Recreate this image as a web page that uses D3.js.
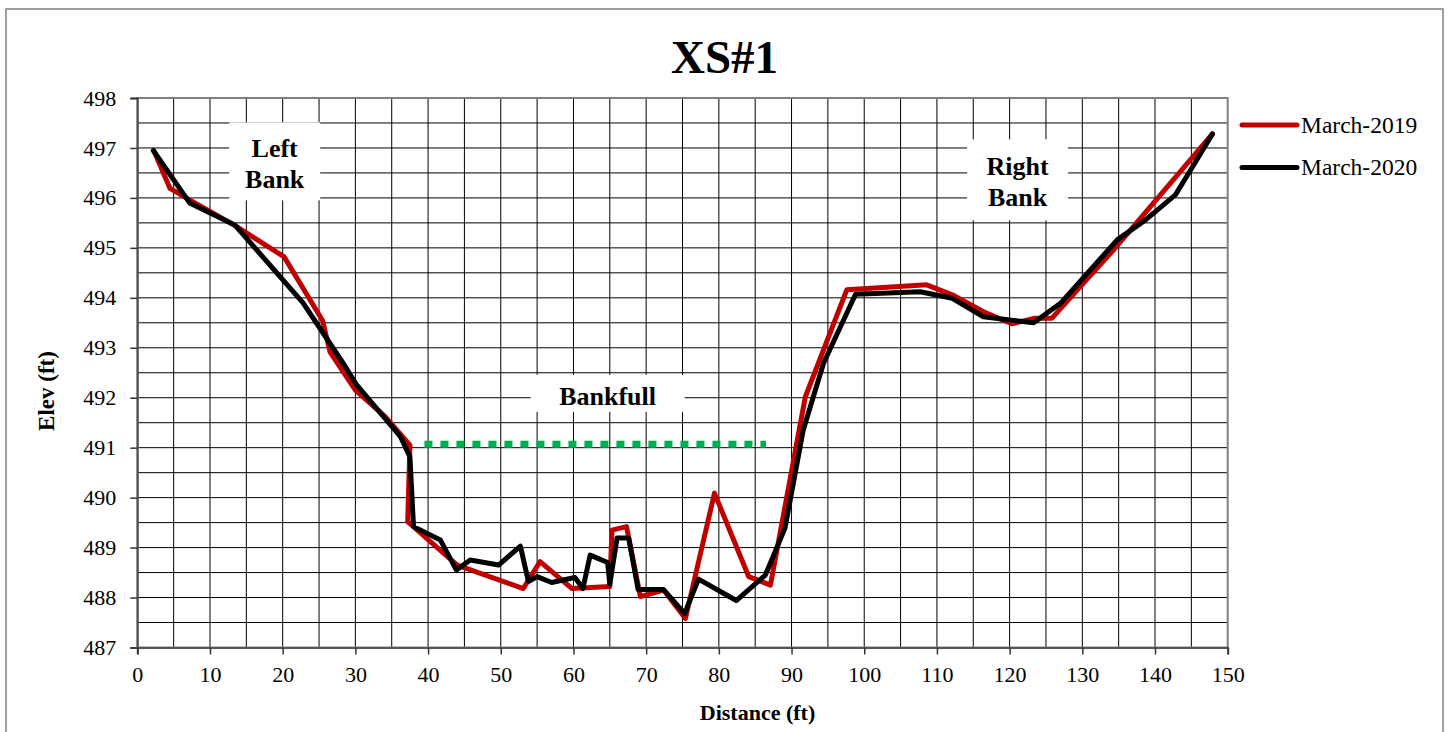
<!DOCTYPE html>
<html><head><meta charset="utf-8">
<script src="https://cdn.jsdelivr.net/npm/d3@7"></script>
<style>body{margin:0;background:#fff}svg{display:block}text{font-family:"Liberation Serif","Times New Roman",serif}</style>
</head><body>
<svg id="c" width="1452" height="732"></svg>
<script>
const march2019 = [[2.3,496.94],[4.5,496.19],[7.3,495.95],[13.4,495.45],[20.2,494.82],[25.5,493.54],[26.5,492.92],[30.0,492.15],[34.1,491.62],[37.5,491.05],[37.2,489.52],[44.0,488.65],[53.1,488.18],[55.4,488.72],[59.8,488.18],[65.0,488.22],[65.3,489.35],[67.3,489.42],[69.2,488.02],[72.4,488.15],[75.4,487.58],[79.4,490.09],[84.1,488.42],[87.1,488.25],[91.9,492.02],[97.6,494.16],[108.6,494.26],[112.1,494.06],[116.4,493.72],[120.3,493.48],[123.5,493.59],[125.8,493.59],[129.7,494.22],[134.3,494.96],[147.9,497.28]];
const march2020 = [[2.2,496.95],[7.2,495.9],[13.4,495.46],[22.8,493.9],[28.5,492.65],[30.2,492.25],[36.2,491.22],[37.5,490.82],[38.0,489.42],[41.7,489.15],[43.9,488.55],[45.8,488.75],[49.7,488.65],[52.7,489.03],[53.8,488.32],[55.0,488.42],[57.0,488.30],[60.2,488.40],[61.3,488.18],[62.3,488.85],[64.7,488.70],[65.0,488.27],[66.0,489.19],[67.6,489.19],[68.9,488.16],[72.4,488.16],[75.3,487.68],[77.2,488.37],[82.4,487.94],[86.4,488.45],[89.1,489.39],[91.6,491.35],[94.4,492.69],[98.8,494.07],[107.7,494.12],[112.1,493.99],[116.4,493.62],[123.3,493.5],[127.0,493.89],[134.8,495.16],[138.7,495.56],[142.8,496.06],[144.9,496.56],[147.9,497.28]];
const bankfull = [[39.5,491.07],[86.5,491.07]];
const xTicks = [0,10,20,30,40,50,60,70,80,90,100,110,120,130,140,150];
const yTicks = [487,488,489,490,491,492,493,494,495,496,497,498];
const seriesNames = ["March-2019","March-2020"];
const labels = [{lines:["Left","Bank"], x:18.9, y:496.70, w:91, h:78, bx:0},{lines:["Right","Bank"], x:121.1, y:496.33, w:101, h:81, bx:0},{lines:["Bankfull"], x:64.7, y:492.04, w:154, h:37, bx:0}];

const svg = d3.select("#c");
const L=137.3, R=1227.7, T=98, B=647.5;
const x = d3.scaleLinear().domain([0,150]).range([L,R]);
const y = d3.scaleLinear().domain([487,498]).range([B,T]);
const SERIF = "Liberation Serif";

// outer frame
svg.append("rect").attr("x",6).attr("y",9).attr("width",1437).attr("height",740)
  .attr("fill","none").attr("stroke","#808080").attr("stroke-width",1.5);

// grid
const g = svg.append("g");
d3.range(5,150,5).forEach(v=>g.append("line").attr("x1",x(v)).attr("x2",x(v)).attr("y1",T).attr("y2",B).attr("stroke","#000").attr("stroke-width",1));
d3.range(487.5,498,0.5).forEach(v=>g.append("line").attr("x1",L).attr("x2",R).attr("y1",y(v)).attr("y2",y(v)).attr("stroke","#000").attr("stroke-width",1));
// plot border
svg.append("rect").attr("x",L).attr("y",T).attr("width",R-L).attr("height",B-T).attr("fill","none").attr("stroke","#808080").attr("stroke-width",2);

// axes
const ya = svg.append("g").attr("transform",`translate(${L},0)`)
  .call(d3.axisLeft(y).tickValues(yTicks).tickSize(7).tickPadding(14).tickFormat(d3.format("d")));
const xa = svg.append("g").attr("transform",`translate(0,${B})`)
  .call(d3.axisBottom(x).tickValues(xTicks).tickSize(7).tickPadding(12).tickFormat(d3.format("d")));
[ya,xa].forEach(a=>{
  a.attr("font-family",SERIF).attr("font-size",22);
  a.select(".domain").attr("stroke","#555").attr("stroke-width",2);
  a.selectAll(".tick line").attr("stroke","#333").attr("stroke-width",1.5);
  a.selectAll("text").style("font-family",SERIF).attr("font-size",22).attr("fill","#000");
});

// annotation boxes
labels.forEach(lb=>{
  const lh=31, n=lb.lines.length;
  const cx=x(lb.x), cy=y(lb.y);
  const boxC = n===1 ? cy-2.4 : cy-1.6;
  svg.append("rect").attr("x",cx-lb.w/2).attr("y",boxC-lb.h/2).attr("width",lb.w).attr("height",lb.h).attr("fill","#fff");
  lb.lines.forEach((t,i)=>{
    svg.append("text").attr("x",cx).attr("y",cy+(i-(n-1)/2)*lh).attr("dy","0.35em")
      .attr("text-anchor","middle").attr("font-weight","bold").attr("font-size",26).text(t);
  });
});

// bankfull
svg.append("path").datum(bankfull).attr("d",d3.line().x(d=>x(d[0])).y(d=>y(d[1])))
  .attr("fill","none").attr("stroke","#00B050").attr("stroke-width",7).attr("stroke-dasharray","8 8");

// series
const line = d3.line().x(d=>x(d[0])).y(d=>y(d[1]));
const colors = ["#C00000","#000000"];
[march2019,march2020].forEach((s,i)=>{
  svg.append("path").datum(s).attr("d",line).attr("fill","none").attr("stroke",colors[i])
    .attr("stroke-width",5).attr("stroke-linejoin","round").attr("stroke-linecap","round");
});

// legend
seriesNames.forEach((n,i)=>{
  const ly = 125 + i*42.5;
  svg.append("line").attr("x1",1242).attr("x2",1297).attr("y1",ly).attr("y2",ly)
    .attr("stroke",colors[i]).attr("stroke-width",5).attr("stroke-linecap","round");
  svg.append("text").attr("x",1301).attr("y",ly).attr("dy","0.33em").attr("font-size",23.5).text(n);
});

// titles
svg.append("text").attr("x",724.5).attr("y",73).attr("text-anchor","middle").attr("font-weight","bold").attr("font-size",47).text("XS#1");
svg.append("text").attr("x",(L+R)/2+75).attr("y",720).attr("text-anchor","middle").attr("font-weight","bold").attr("font-size",22).text("Distance (ft)");
svg.append("text").attr("transform",`translate(54,391) rotate(-90)`).attr("text-anchor","middle").attr("font-weight","bold").attr("font-size",23).text("Elev (ft)");
</script>
</body></html>
